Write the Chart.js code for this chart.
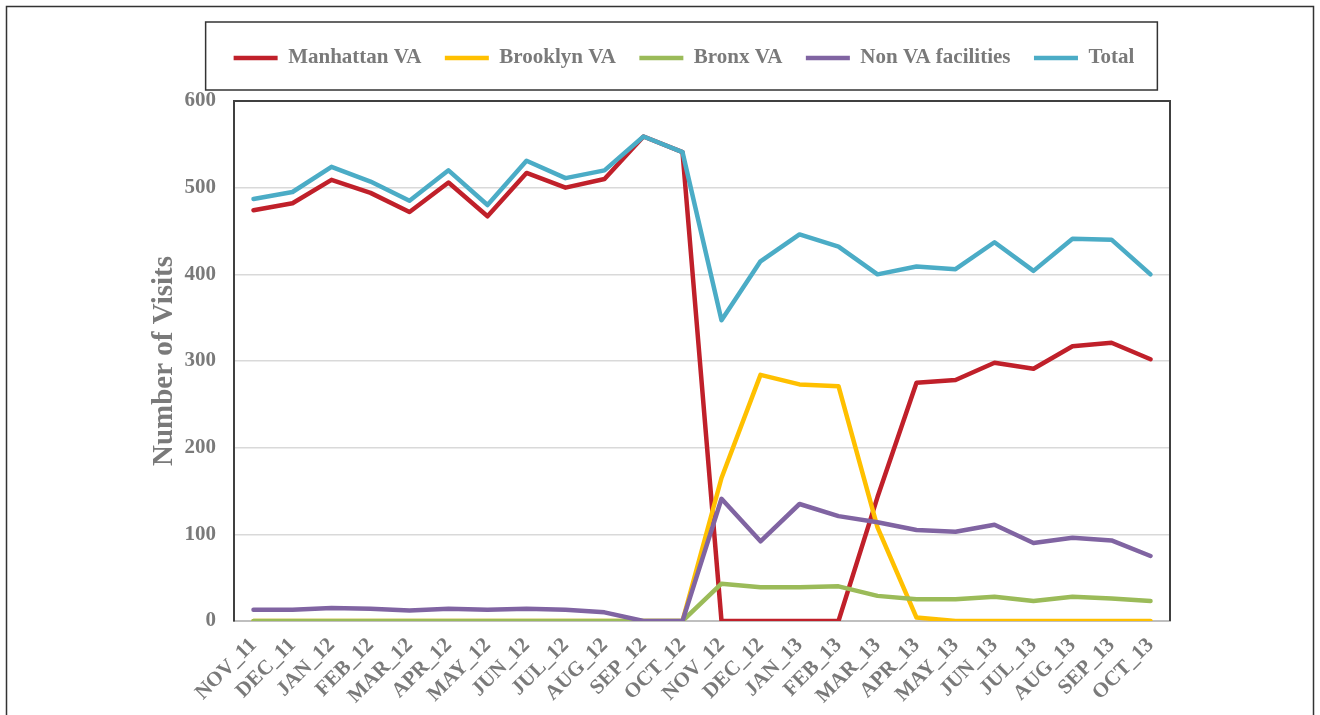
<!DOCTYPE html>
<html>
<head>
<meta charset="utf-8">
<script src="https://cdn.jsdelivr.net/npm/chart.js@4.4.0/dist/chart.umd.min.js"></script>
<style>
  html, body { margin: 0; padding: 0; background: #fff; }
  #wrap { width: 1320px; height: 715px; }
</style>
</head>
<body>
<div id="wrap"><canvas id="chart" width="1320" height="715"></canvas></div>
<script>
// months on the x axis
const months = ['NOV_11', 'DEC_11', 'JAN_12', 'FEB_12', 'MAR_12', 'APR_12', 'MAY_12', 'JUN_12',
  'JUL_12', 'AUG_12', 'SEP_12', 'OCT_12', 'NOV_12', 'DEC_12', 'JAN_13', 'FEB_13', 'MAR_13',
  'APR_13', 'MAY_13', 'JUN_13', 'JUL_13', 'AUG_13', 'SEP_13', 'OCT_13'];

// visits per month
const manhattanVA = [474, 482, 509, 494, 472, 506, 467, 517, 500, 510, 559, 541,
  0, 0, 0, 0, 143, 275, 278, 298, 291, 317, 321, 302];
const brooklynVA = [0, 0, 0, 0, 0, 0, 0, 0, 0, 0, 0, 0,
  165, 284, 273, 271, 108, 4, 0, 0, 0, 0, 0, 0];
const bronxVA = [0, 0, 0, 0, 0, 0, 0, 0, 0, 0, 0, 0,
  43, 39, 39, 40, 29, 25, 25, 28, 23, 28, 26, 23];
const nonVA = [13, 13, 15, 14, 12, 14, 13, 14, 13, 10, 0, 0,
  141, 92, 135, 121, 114, 105, 103, 111, 90, 96, 93, 75];
const total = [487, 495, 524, 507, 485, 520, 480, 531, 511, 520, 559, 541,
  347, 415, 446, 432, 400, 409, 406, 437, 404, 441, 440, 400];

const yTicks = [0, 100, 200, 300, 400, 500, 600];

const grayText = '#7a7a7a';
const serif = 'Liberation Serif, Times New Roman, serif';

const series = [
  { label: 'Manhattan VA', data: manhattanVA, color: '#c0202a' },
  { label: 'Brooklyn VA', data: brooklynVA, color: '#ffc000' },
  { label: 'Bronx VA', data: bronxVA, color: '#9bbb59' },
  { label: 'Non VA facilities', data: nonVA, color: '#8064a2' },
  { label: 'Total', data: total, color: '#4bacc6' }
];

// frame, legend box and the top/right plot border
const framePlugin = {
  id: 'frame',
  afterDraw(chart) {
    const ctx = chart.ctx;
    const a = chart.chartArea;
    ctx.save();
    ctx.strokeStyle = '#333';
    ctx.lineWidth = 1.5;
    ctx.strokeRect(6.5, 6.5, chart.width - 13, chart.height + 10);

    const boxes = chart.legend.legendHitBoxes;
    if (boxes && boxes.length) {
      const first = boxes[0];
      const last = boxes[boxes.length - 1];
      const l = first.left - 28;
      const r = last.left + last.width + 23;
      const cy = first.top + first.height / 2;
      ctx.strokeRect(l, cy - 36, r - l, 68);
    }

    ctx.strokeStyle = '#404040';
    ctx.lineWidth = 2;
    ctx.beginPath();
    ctx.moveTo(a.left, a.top);
    ctx.lineTo(a.right, a.top);
    ctx.lineTo(a.right, a.bottom);
    ctx.stroke();
    ctx.restore();
  }
};

const ctx = document.getElementById('chart').getContext('2d');
new Chart(ctx, {
  type: 'line',
  data: {
    labels: months,
    datasets: series.map((s, i) => ({
      label: s.label,
      data: s.data,
      borderColor: s.color,
      backgroundColor: s.color,
      borderWidth: 4.5,
      borderCapStyle: 'round',
      borderJoinStyle: 'round',
      pointRadius: 0,
      tension: 0,
      order: series.length - i
    }))
  },
  options: {
    responsive: false,
    animation: false,
    layout: { padding: { left: 48, right: 0, top: 24, bottom: 0 } },
    plugins: {
      tooltip: { enabled: false },
      legend: {
        position: 'top',
        labels: {
          usePointStyle: true,
          pointStyle: 'line',
          pointStyleWidth: 44,
          padding: 23.5,
          color: grayText,
          font: { family: serif, size: 21, weight: 'bold' },
          sort: (a, b) => a.datasetIndex - b.datasetIndex
        }
      }
    },
    scales: {
      x: {
        offset: true,
        grid: { display: false, drawTicks: false },
        border: { color: '#bfbfbf', width: 2 },
        ticks: {
          color: grayText,
          font: { family: serif, size: 21, weight: 'bold' },
          maxRotation: 45,
          minRotation: 45,
          autoSkip: false,
          padding: 12
        },
        afterFit: s => { s.height = 94; }
      },
      xTop: {
        type: 'category',
        position: 'top',
        grid: { display: false, drawTicks: false },
        border: { display: false },
        ticks: { display: false },
        afterFit: s => { s.height = 22.5; }
      },
      y: {
        min: 0,
        max: 600,
        afterBuildTicks: s => { s.ticks = yTicks.map(v => ({ value: v })); },
        grid: { color: '#d9d9d9', lineWidth: 1.5, drawTicks: false },
        border: { color: '#404040', width: 2 },
        ticks: {
          color: grayText,
          font: { family: serif, size: 21, weight: 'bold' },
          padding: 18
        },
        title: {
          display: true,
          text: 'Number of Visits',
          color: grayText,
          font: { family: serif, size: 29, weight: 'bold' },
          padding: { top: 99, bottom: 0 }
        },
        afterFit: s => { s.width = 186; }
      },
      yRight: {
        position: 'right',
        grid: { display: false, drawTicks: false },
        border: { display: false },
        ticks: { display: false },
        afterFit: s => { s.width = 150; }
      }
    }
  },
  plugins: [framePlugin]
});
</script>
</body>
</html>
